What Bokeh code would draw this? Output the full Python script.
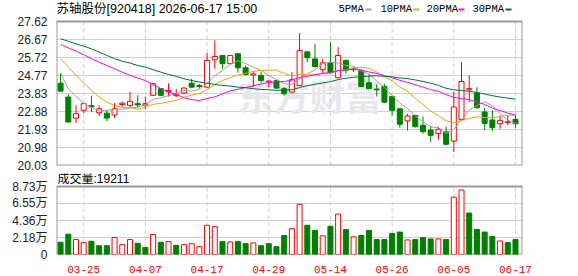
from bokeh.plotting import figure
from bokeh.models import Range1d, FixedTicker, Label, ColumnDataSource, NumeralTickFormatter
from bokeh.layouts import column
from bokeh.embed import file_html
from bokeh.resources import INLINE

# ---------------- data ----------------
title_text = "苏轴股份[920418] 2026-06-17 15:00"
volume_title = "成交量:19211"
watermark = "东方财富"
legend_names = ["5PMA", "10PMA", "20PMA", "30PMA"]

date_ticks = [3, 11, 19, 27, 35, 43, 51, 59]
date_labels = ["03-25", "04-07", "04-17", "04-29", "05-14", "05-26", "06-05", "06-17"]
price_ticks = [20.03, 20.98, 21.93, 22.88, 23.83, 24.77, 25.72, 26.67, 27.62]
vol_ticks = [0, 21800, 43600, 65500, 87300]
vol_tick_labels = ["0", "2.18万", "4.36万", "6.55万", "8.73万"]

opens = [24.37, 23.64, 22.53, 22.94, 23.19, 22.81, 22.79, 22.69, 23.25, 23.20,
         23.29, 23.22, 23.73, 24.08, 23.92, 23.71, 23.85, 24.37, 24.25, 24.16,
         25.60, 25.83, 25.40, 25.92, 25.18, 24.80, 24.78, 24.43, 24.50, 24.08,
         23.90, 24.25, 26.02, 25.65, 25.08, 25.43, 24.66, 25.57, 25.12, 25.04,
         24.39, 24.06, 24.20, 23.67, 23.02, 22.38, 22.67, 22.15, 21.90, 21.71,
         21.80, 21.32, 22.46, 24.02, 23.85, 22.85, 22.43, 22.23, 22.30, 22.46]
highs = [24.90, 23.78, 23.20, 23.29, 23.71, 23.20, 22.94, 23.32, 23.37, 23.90,
         23.73, 23.67, 24.36, 24.10, 24.36, 24.06, 24.16, 24.60, 24.33, 25.95,
         26.62, 25.85, 25.85, 25.94, 25.30, 25.01, 24.95, 24.53, 24.52, 24.16,
         24.95, 27.01, 26.04, 26.44, 25.65, 26.53, 26.27, 25.62, 25.22, 25.13,
         24.83, 24.30, 24.34, 23.71, 23.04, 22.76, 22.71, 22.62, 22.12, 22.08,
         22.08, 23.90, 25.48, 24.78, 24.16, 23.08, 22.94, 22.67, 22.67, 22.67]
lows = [23.95, 22.32, 22.27, 22.80, 22.84, 22.64, 22.37, 22.53, 23.13, 23.08,
        23.08, 22.99, 23.69, 23.70, 23.67, 23.64, 23.78, 24.13, 24.08, 24.13,
        25.13, 25.13, 25.37, 24.92, 24.77, 24.16, 24.38, 24.16, 24.08, 23.72,
        23.85, 24.22, 25.48, 25.18, 24.90, 24.84, 24.63, 24.87, 24.95, 24.16,
        24.05, 23.67, 23.32, 22.67, 22.02, 21.88, 22.03, 21.71, 21.27, 21.39,
        21.10, 20.74, 22.42, 23.37, 23.02, 21.90, 21.85, 21.97, 22.15, 22.02]
closes = [23.95, 22.32, 22.76, 23.29, 23.12, 23.02, 22.53, 23.02, 23.32, 23.41,
          23.22, 23.29, 24.34, 23.73, 23.99, 23.78, 24.11, 24.16, 24.20, 25.57,
          25.78, 25.40, 25.83, 25.18, 24.83, 24.86, 24.51, 24.48, 24.11, 23.81,
          24.55, 26.09, 25.71, 25.25, 25.44, 24.92, 25.83, 25.05, 25.08, 24.19,
          24.08, 24.02, 23.37, 22.94, 22.20, 22.64, 22.08, 21.81, 21.62, 21.94,
          21.15, 23.11, 24.46, 24.08, 23.08, 22.25, 22.02, 22.41, 22.34, 22.23]
volumes = [15700, 26100, 19200, 15200, 17000, 11300, 11300, 21800, 12600, 19200,
           14400, 9100, 25700, 15700, 16600, 11800, 12600, 13900, 10000, 37500,
           35700, 16600, 16100, 16600, 13900, 14800, 11300, 13900, 10000, 24400,
           33100, 64500, 37500, 30900, 24000, 36200, 51900, 32200, 22700, 24400,
           30900, 19200, 19200, 27000, 28800, 18700, 19200, 21800, 20000, 20000,
           19200, 73600, 82800, 53200, 32200, 28800, 23100, 17400, 15200, 19211]
vol_up = [0, 0, 1, 1, 0, 0, 0, 1, 1, 1,
          0, 0, 1, 0, 1, 0, 1, 1, 1, 1,
          1, 0, 1, 0, 0, 1, 0, 0, 0, 0,
          1, 1, 0, 0, 1, 0, 1, 0, 1, 0,
          0, 0, 0, 0, 0, 1, 0, 0, 0, 1,
          0, 1, 1, 0, 0, 0, 0, 1, 0, 0]
ma5 = [24.90, 24.08, 23.67, 23.32, 23.09, 22.90, 22.94, 23.00, 23.00, 23.06,
       23.10, 23.25, 23.52, 23.60, 23.71, 23.83, 23.99, 23.95, 24.05, 24.36,
       24.76, 25.02, 25.36, 25.55, 25.40, 25.22, 25.04, 24.77, 24.56, 24.35,
       24.29, 24.61, 24.85, 25.08, 25.41, 25.48, 25.43, 25.30, 25.26, 25.01,
       24.85, 24.48, 24.15, 23.72, 23.32, 23.03, 22.65, 22.33, 22.07, 22.02,
       21.72, 21.93, 22.46, 22.95, 23.18, 23.40, 23.18, 22.77, 22.42, 22.25]
ma10 = [25.66, 25.22, 24.78, 24.37, 23.99, 23.64, 23.37, 23.20, 23.08, 23.07,
        23.00, 23.10, 23.26, 23.30, 23.39, 23.46, 23.62, 23.74, 23.82, 24.04,
        24.30, 24.51, 24.66, 24.80, 24.88, 24.99, 25.03, 25.06, 25.06, 24.88,
        24.76, 24.83, 24.81, 24.82, 24.88, 24.89, 25.02, 25.08, 25.17, 25.21,
        25.16, 24.96, 24.72, 24.49, 24.17, 23.94, 23.57, 23.24, 22.90, 22.67,
        22.38, 22.29, 22.40, 22.51, 22.60, 22.56, 22.55, 22.61, 22.68, 22.71]
ma20 = [26.41, 26.23, 26.06, 25.87, 25.66, 25.48, 25.30, 25.13, 24.95, 24.78,
        24.64, 24.51, 24.30, 24.08, 23.90, 23.78, 23.60, 23.50, 23.46, 23.56,
        23.65, 23.80, 23.96, 24.05, 24.14, 24.23, 24.33, 24.40, 24.44, 24.46,
        24.53, 24.67, 24.73, 24.81, 24.88, 24.94, 25.03, 25.07, 25.11, 25.05,
        24.96, 24.89, 24.77, 24.66, 24.52, 24.41, 24.29, 24.16, 24.03, 23.94,
        23.77, 23.62, 23.56, 23.50, 23.38, 23.25, 23.06, 22.93, 22.79, 22.69]
ma30 = [26.71, 26.58, 26.44, 26.32, 26.18, 26.01, 25.83, 25.66, 25.53, 25.43,
        25.30, 25.22, 25.08, 24.95, 24.83, 24.73, 24.60, 24.51, 24.43, 24.37,
        24.30, 24.25, 24.22, 24.16, 24.13, 24.08, 24.04, 24.02, 23.99, 24.00,
        24.02, 24.14, 24.24, 24.31, 24.38, 24.45, 24.56, 24.63, 24.68, 24.71,
        24.74, 24.76, 24.73, 24.70, 24.64, 24.61, 24.54, 24.46, 24.37, 24.25,
        24.10, 24.02, 23.98, 23.94, 23.88, 23.80, 23.71, 23.64, 23.58, 23.53]

# ---------------- styling / layout ----------------
RED = "#ff0000"
GREEN = "#008000"
MA_COLORS = ["#a0a0a0", "#f0a30a", "#ff00ff", "#006f3c"]
GRID = "#d0d0d0"
FRAME = "#999999"
SANS = "Liberation Sans, Noto Sans CJK SC"
CJK = "Noto Sans CJK SC"
MONO = "Liberation Mono"

W, H = 578, 276
FRAME_L, FRAME_R = 56, 522
X_L, X_R = -0.53, 59.91
PXU = (FRAME_R - FRAME_L) / (X_R - X_L)

P_TOP, P_BOT = price_ticks[-1], price_ticks[0]
PF_TOP, PF_BOT = 21, 165          # page y of price panel box
P1_H = 173                        # height of price canvas
V_TOP = vol_ticks[-1]
VF_TOP, VF_BOT = 186, 254         # page y of volume panel box


def sx(px):
    return X_L + (px - FRAME_L) / PXU


def sy_price(py):
    return P_TOP - (py - PF_TOP) * (P_TOP - P_BOT) / (PF_BOT - PF_TOP)


def sy_vol(py):
    return V_TOP - (py - VF_TOP) * V_TOP / (VF_BOT - VF_TOP)


n = len(closes)
idx = list(range(n))
up = [c >= o for o, c in zip(opens, closes)]
cdl_color = [RED if u else GREEN for u in up]
cdl_fill = ["#ffffff" if u else GREEN for u in up]
body_top = [max(o, c) for o, c in zip(opens, closes)]
body_bot = [min(o, c) for o, c in zip(opens, closes)]
vcol = [RED if u else GREEN for u in vol_up]
vfill = ["#ffffff" if u else GREEN for u in vol_up]

src = ColumnDataSource(dict(x=idx, o=opens, h=highs, l=lows, c=closes,
                            bt=body_top, bb=body_bot, col=cdl_color, fill=cdl_fill,
                            v=volumes, vcol=vcol, vfill=vfill,
                            ma5=ma5, ma10=ma10, ma20=ma20, ma30=ma30))

x_range = Range1d(X_L, X_R)


def style(p, lo, hi):
    p.outline_line_color = None
    p.background_fill_color = "white"
    p.border_fill_color = "white"
    p.ygrid.grid_line_color = GRID
    p.xgrid.visible = False
    for ax in p.yaxis:
        ax.axis_line_color = None
        ax.major_tick_line_color = None
        ax.minor_tick_line_color = None
        ax.major_label_standoff = 3
        ax.major_label_text_font = SANS
        ax.major_label_text_font_size = "12px"
        ax.major_label_text_color = "#222222"
    # dashed date lines inside the panel box
    p.segment(x0=date_ticks, y0=[lo] * len(date_ticks), x1=date_ticks, y1=[hi] * len(date_ticks),
              line_color=GRID, line_dash="4 3", line_width=1)
    # panel box
    p.quad(left=[X_L], right=[X_R], bottom=[lo], top=[hi], fill_color=None,
           line_color=FRAME, line_width=2)


# ---------------- price panel ----------------
p1 = figure(width=W, height=P1_H, x_range=x_range,
            y_range=Range1d(P_BOT, sy_price(0)),
            output_backend="svg", toolbar_location=None, title=None,
            min_border_left=FRAME_L, min_border_right=W - FRAME_R,
            min_border_top=0, min_border_bottom=P1_H - PF_BOT)
p1.xaxis.visible = False
p1.yaxis.ticker = FixedTicker(ticks=price_ticks)
p1.yaxis.formatter = NumeralTickFormatter(format="0.00")

p1.add_layout(Label(x=sx(237), y=sy_price(94), text=watermark, text_font=CJK,
                    text_font_size="36px", text_font_style="bold", text_color="#e8e8ec",
                    text_baseline="middle", level="underlay"))
style(p1, P_BOT, P_TOP)

p1.segment(x0="x", y0="l", x1="x", y1="h", source=src, line_color="col", line_width=1)
p1.vbar(x="x", width=0.65, top="bt", bottom="bb", source=src,
        fill_color="fill", line_color="col", line_width=1)
for key, colr in zip(["ma5", "ma10", "ma20", "ma30"], MA_COLORS):
    p1.line(x="x", y=key, source=src, line_color=colr, line_width=1)

p1.add_layout(Label(x=sx(56), y=sy_price(8), text=title_text, text_font=SANS,
                    text_font_size="12.5px", text_color="#000000", text_baseline="middle"))

legend_x = [338, 380, 426, 472]
dash_x = [365, 413, 458, 505]
for name, lx, dx, colr in zip(legend_names, legend_x, dash_x, MA_COLORS):
    p1.add_layout(Label(x=sx(lx), y=sy_price(8), text=name, text_font=MONO,
                        text_font_size="10.5px", text_color="#000000", text_baseline="middle"))
    p1.segment(x0=[sx(dx)], y0=[sy_price(9)], x1=[sx(dx + 6)], y1=[sy_price(9)],
               line_color=colr, line_width=2)

# ---------------- volume panel ----------------
VH = H - P1_H
p2 = figure(width=W, height=VH, x_range=x_range,
            y_range=Range1d(0, sy_vol(P1_H)),
            output_backend="svg", toolbar_location=None, title=None,
            min_border_left=FRAME_L, min_border_right=W - FRAME_R,
            min_border_top=0, min_border_bottom=H - VF_BOT)
p2.yaxis.ticker = FixedTicker(ticks=vol_ticks)
p2.yaxis.major_label_overrides = {t: s for t, s in zip(vol_ticks, vol_tick_labels)}
p2.xaxis.ticker = FixedTicker(ticks=date_ticks)
p2.xaxis.major_label_overrides = {t: s for t, s in zip(date_ticks, date_labels)}
p2.xaxis.axis_line_color = None
p2.xaxis.major_tick_line_color = None
p2.xaxis.minor_tick_line_color = None
p2.xaxis.major_label_standoff = 5
p2.xaxis.major_label_text_font = MONO
p2.xaxis.major_label_text_font_size = "11px"
p2.xaxis.major_label_text_color = RED
style(p2, 0, V_TOP)

p2.vbar(x="x", width=0.65, top="v", bottom=0, source=src,
        fill_color="vfill", line_color="vcol", line_width=1)

p2.add_layout(Label(x=sx(57), y=sy_vol(178), text=volume_title, text_font=SANS,
                    text_font_size="12px", text_color="#000000", text_baseline="middle"))

layout = column(p1, p2, spacing=0)
open("out.html", "w").write(file_html(layout, INLINE))
